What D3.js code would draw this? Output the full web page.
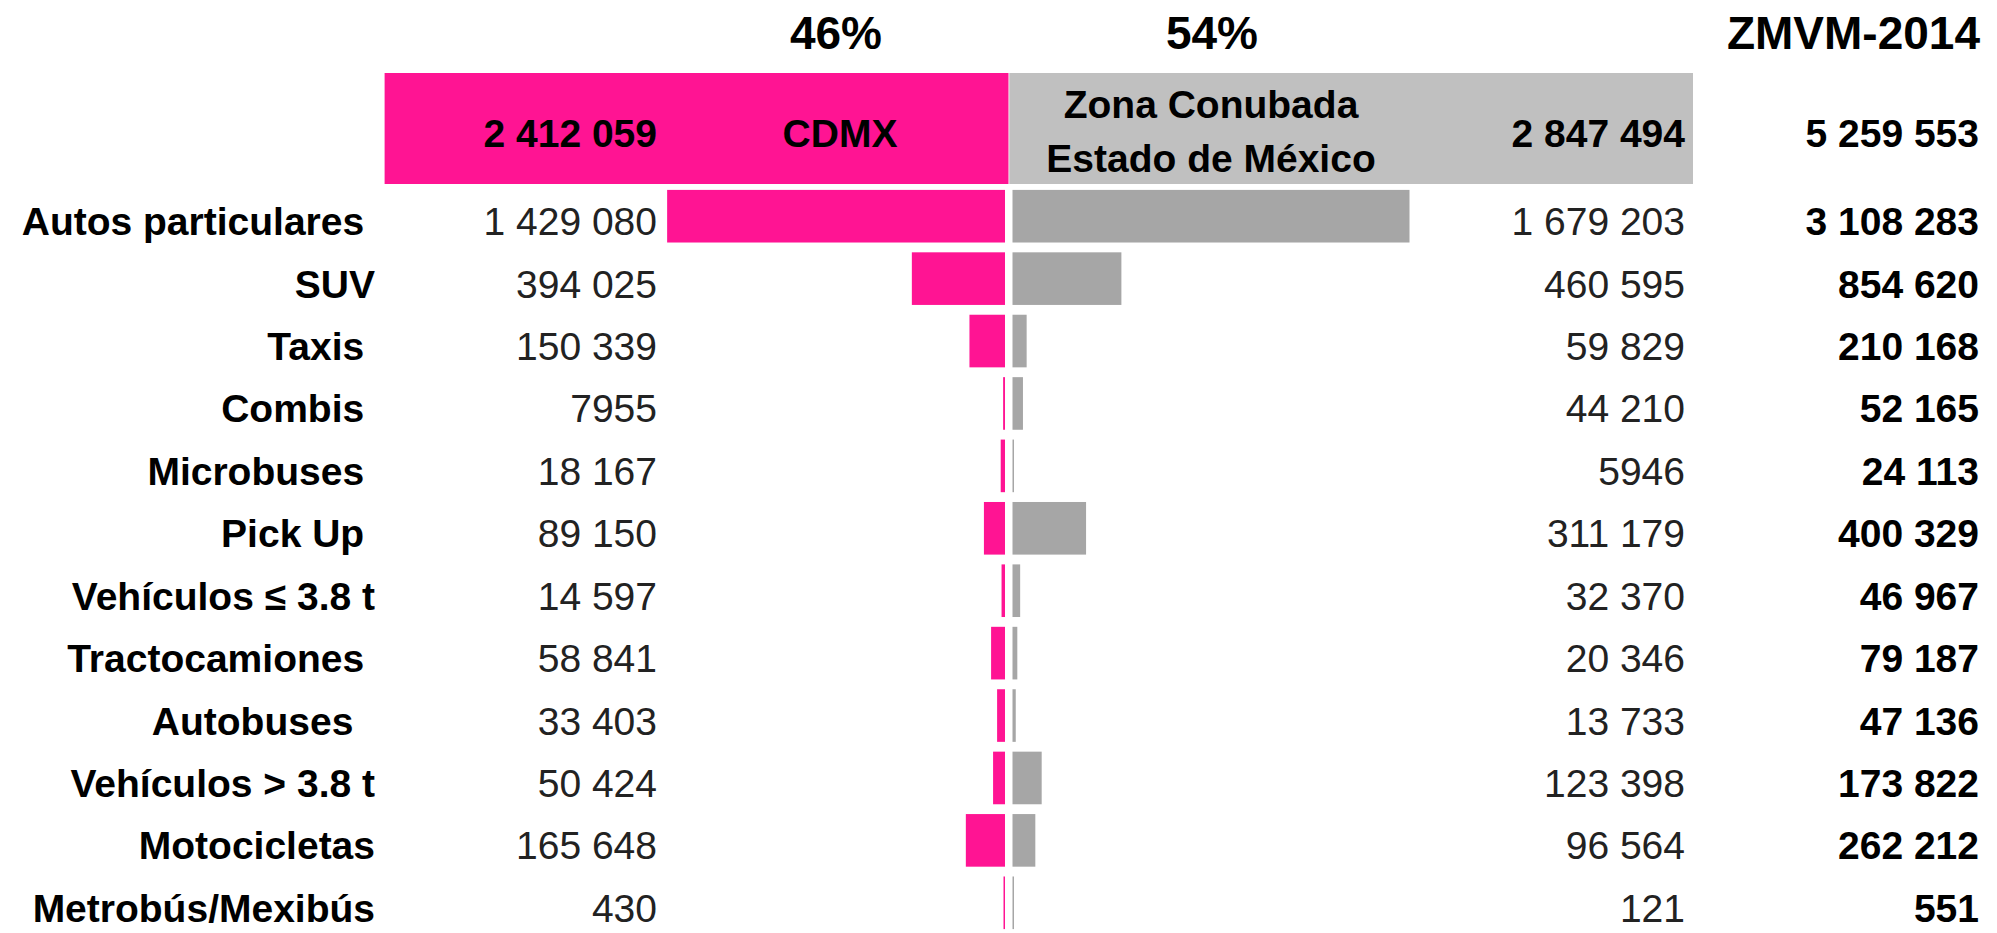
<!DOCTYPE html>
<html lang="es">
  <head>
    <meta charset="UTF-8" />
    <title>Parque vehicular ZMVM 2014</title>
    <script src="https://cdn.jsdelivr.net/npm/d3@7"></script>
    <style>
      body { margin: 0; background: #fff; }
      text { font-family: "Liberation Sans", Arial, sans-serif; white-space: pre; }
    </style>
  </head>
  <body>
    <svg id="svg"></svg>
    <script>
      // categorias (los espacios finales vienen de la tabla original)
      const categories = [
        "Autos particulares ", "SUV", "Taxis ", "Combis ", "Microbuses ", "Pick Up ",
        "Vehículos ≤ 3.8 t", "Tractocamiones ", "Autobuses  ", "Vehículos > 3.8 t",
        "Motocicletas", "Metrobús/Mexibús"
      ];
      const cdmx = [1429080, 394025, 150339, 7955, 18167, 89150, 14597, 58841, 33403, 50424, 165648, 430];
      const edomex = [1679203, 460595, 59829, 44210, 5946, 311179, 32370, 20346, 13733, 123398, 96564, 121];
      const totals = [3108283, 854620, 210168, 52165, 24113, 400329, 46967, 79187, 47136, 173822, 262212, 551];

      const groupNames = ["CDMX", ["Zona Conubada", "Estado de México"]];
      const groupTotals = [2412059, 2847494];
      const groupShares = ["46%", "54%"];
      const grandTitle = "ZMVM-2014";
      const grandTotal = 5259553;

      const W = 1997, H = 933;
      const pink = "#ff1493", grayHead = "#c0c0c0", grayBar = "#a6a6a6";
      const mid = 1008.5;

      const svg = d3.select("#svg").attr("width", W).attr("height", H);

      const loc = d3.formatLocale({ decimal: ".", thousands: " ", grouping: [3], currency: ["", ""] });
      const fmtBig = loc.format(",d");
      const fmt = v => (v >= 10000 ? fmtBig(v) : d3.format("d")(v));

      const x = d3.scaleLinear().domain([0, 1679203]).range([0, 397]);
      const y = d3.scaleBand()
        .domain(d3.range(categories.length))
        .range([185, 934])
        .paddingInner(0.157)
        .paddingOuter(0.0785);

      // cabecera
      svg.append("rect").attr("x", 384.6).attr("y", 73).attr("width", mid - 384.6).attr("height", 111).attr("fill", pink);
      svg.append("rect").attr("x", mid + 0.8).attr("y", 73).attr("width", 1693 - mid - 0.8).attr("height", 111).attr("fill", grayHead);

      const head = svg.append("g").attr("font-weight", "bold").attr("fill", "#000");
      head.append("text").attr("x", 836).attr("y", 49).attr("text-anchor", "middle").attr("font-size", 46).text(groupShares[0]);
      head.append("text").attr("x", 1212).attr("y", 49).attr("text-anchor", "middle").attr("font-size", 46).text(groupShares[1]);
      head.append("text").attr("x", 1980).attr("y", 49).attr("text-anchor", "end").attr("font-size", 46).text(grandTitle);

      head.append("text").attr("x", 657).attr("y", 147).attr("text-anchor", "end").attr("font-size", 39).text(fmt(groupTotals[0]));
      head.append("text").attr("x", 840).attr("y", 147).attr("text-anchor", "middle").attr("font-size", 39).text(groupNames[0]);
      head.append("text").attr("x", 1211).attr("y", 118).attr("text-anchor", "middle").attr("font-size", 39).text(groupNames[1][0]);
      head.append("text").attr("x", 1211).attr("y", 172).attr("text-anchor", "middle").attr("font-size", 39).text(groupNames[1][1]);
      head.append("text").attr("x", 1685).attr("y", 147).attr("text-anchor", "end").attr("font-size", 39).text(fmt(groupTotals[1]));
      head.append("text").attr("x", 1979).attr("y", 147).attr("text-anchor", "end").attr("font-size", 39).text(fmt(grandTotal));

      // filas
      const rows = svg.append("g").selectAll("g")
        .data(categories.map((c, i) => ({ c, i, a: cdmx[i], b: edomex[i], t: totals[i] })))
        .join("g")
        .attr("transform", d => `translate(0,${y(d.i)})`);

      const bw = y.bandwidth();
      const base = bw / 2 + 19;

      rows.append("rect")
        .attr("x", d => 1005 - Math.max(x(d.a), 1.5))
        .attr("width", d => Math.max(x(d.a), 1.5))
        .attr("height", bw)
        .attr("fill", pink);

      rows.append("rect")
        .attr("x", 1012.5)
        .attr("width", d => Math.max(x(d.b), 1.5))
        .attr("height", bw)
        .attr("fill", grayBar);

      rows.append("text")
        .attr("x", 375).attr("y", base)
        .attr("text-anchor", "end")
        .attr("font-size", 39).attr("font-weight", "bold")
        .text(d => d.c);

      rows.append("text")
        .attr("x", 657).attr("y", base)
        .attr("text-anchor", "end")
        .attr("font-size", 39).attr("fill", "#222")
        .text(d => fmt(d.a));

      rows.append("text")
        .attr("x", 1685).attr("y", base)
        .attr("text-anchor", "end")
        .attr("font-size", 39).attr("fill", "#222")
        .text(d => fmt(d.b));

      rows.append("text")
        .attr("x", 1979).attr("y", base)
        .attr("text-anchor", "end")
        .attr("font-size", 39).attr("font-weight", "bold")
        .text(d => fmt(d.t));
    </script>
  </body>
</html>
